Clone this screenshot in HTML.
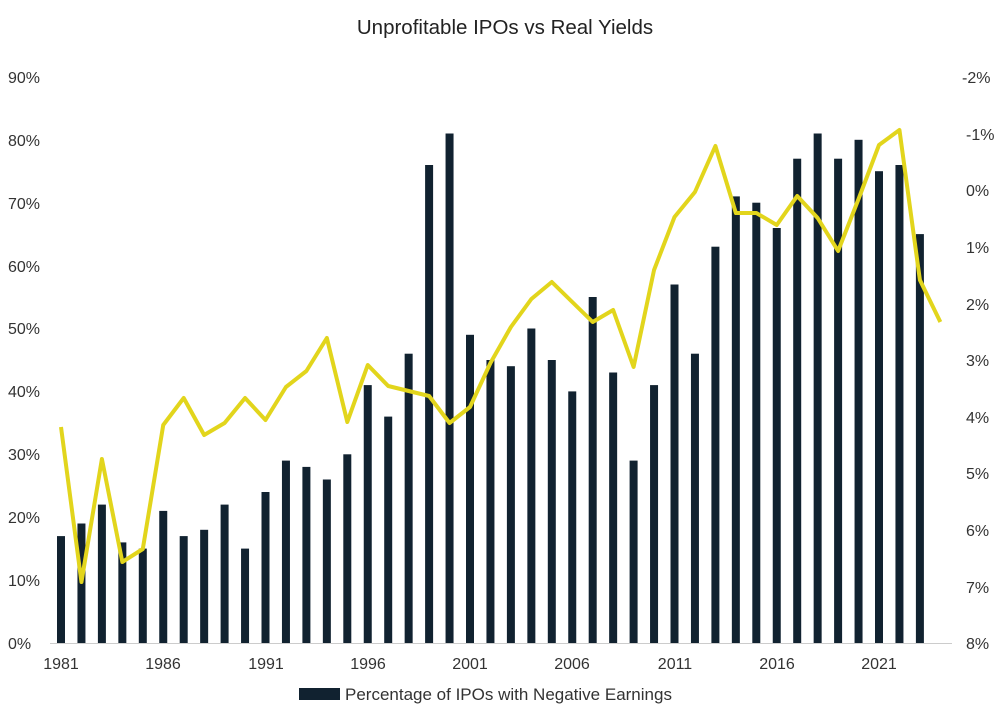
<!DOCTYPE html>
<html><head><meta charset="utf-8"><style>
body{margin:0;background:#fff;}
svg{display:block;font-family:"Liberation Sans",Arial,sans-serif;}
</style></head><body>
<svg width="998" height="724" viewBox="0 0 998 724" xmlns="http://www.w3.org/2000/svg">
<rect width="998" height="724" fill="#fff"/>
<text x="505" y="34" text-anchor="middle" font-size="20.5" fill="#222">Unprofitable IPOs vs Real Yields</text>
<g font-size="16" fill="#333">
<text x="8" y="649">0%</text><text x="8" y="586">10%</text><text x="8" y="523">20%</text><text x="8" y="460">30%</text><text x="8" y="397">40%</text><text x="8" y="334">50%</text><text x="8" y="272">60%</text><text x="8" y="209">70%</text><text x="8" y="146">80%</text><text x="8" y="83">90%</text>
<text x="962" y="83">-2%</text><text x="966" y="140">-1%</text><text x="966" y="196">0%</text><text x="966" y="253">1%</text><text x="966" y="310">2%</text><text x="966" y="366">3%</text><text x="966" y="423">4%</text><text x="966" y="479">5%</text><text x="966" y="536">6%</text><text x="966" y="593">7%</text><text x="966" y="649">8%</text>
<g text-anchor="middle">
<text x="61" y="669">1981</text><text x="163" y="669">1986</text><text x="266" y="669">1991</text><text x="368" y="669">1996</text><text x="470" y="669">2001</text><text x="572" y="669">2006</text><text x="675" y="669">2011</text><text x="777" y="669">2016</text><text x="879" y="669">2021</text>
</g>
</g>
<g fill="#112230">
<rect x="57" y="536.1" width="8" height="106.9"/>
<rect x="77.45" y="523.5" width="8" height="119.5"/>
<rect x="97.9" y="504.6" width="8" height="138.4"/>
<rect x="118.35" y="542.4" width="8" height="100.6"/>
<rect x="138.8" y="548.6" width="8" height="94.4"/>
<rect x="159.25" y="510.9" width="8" height="132.1"/>
<rect x="179.7" y="536.1" width="8" height="106.9"/>
<rect x="200.15" y="529.8" width="8" height="113.2"/>
<rect x="220.6" y="504.6" width="8" height="138.4"/>
<rect x="241.05" y="548.6" width="8" height="94.4"/>
<rect x="261.5" y="492" width="8" height="151"/>
<rect x="281.95" y="460.6" width="8" height="182.4"/>
<rect x="302.4" y="466.9" width="8" height="176.1"/>
<rect x="322.85" y="479.5" width="8" height="163.5"/>
<rect x="343.3" y="454.3" width="8" height="188.7"/>
<rect x="363.75" y="385.1" width="8" height="257.9"/>
<rect x="384.2" y="416.6" width="8" height="226.4"/>
<rect x="404.65" y="353.7" width="8" height="289.3"/>
<rect x="425.1" y="165" width="8" height="478"/>
<rect x="445.55" y="133.5" width="8" height="509.5"/>
<rect x="466" y="334.8" width="8" height="308.2"/>
<rect x="486.45" y="360" width="8" height="283"/>
<rect x="506.9" y="366.2" width="8" height="276.8"/>
<rect x="527.35" y="328.5" width="8" height="314.5"/>
<rect x="547.8" y="360" width="8" height="283"/>
<rect x="568.25" y="391.4" width="8" height="251.6"/>
<rect x="588.7" y="297" width="8" height="346"/>
<rect x="609.15" y="372.5" width="8" height="270.5"/>
<rect x="629.6" y="460.6" width="8" height="182.4"/>
<rect x="650.05" y="385.1" width="8" height="257.9"/>
<rect x="670.5" y="284.5" width="8" height="358.5"/>
<rect x="690.95" y="353.7" width="8" height="289.3"/>
<rect x="711.4" y="246.7" width="8" height="396.3"/>
<rect x="731.85" y="196.4" width="8" height="446.6"/>
<rect x="752.3" y="202.7" width="8" height="440.3"/>
<rect x="772.75" y="228" width="8" height="415"/>
<rect x="793.2" y="158.7" width="8" height="484.3"/>
<rect x="813.65" y="133.5" width="8" height="509.5"/>
<rect x="834.1" y="158.7" width="8" height="484.3"/>
<rect x="854.55" y="139.8" width="8" height="503.2"/>
<rect x="875" y="171.2" width="8" height="471.8"/>
<rect x="895.45" y="165" width="8" height="478"/>
<rect x="915.9" y="234.1" width="8" height="408.9"/>
</g>
<line x1="50" y1="643.5" x2="952" y2="643.5" stroke="#ccc" stroke-width="1"/>
<polyline fill="none" stroke="#e2d51c" stroke-width="4" stroke-linejoin="round" points="61,427 81.45,582 101.9,459 122.35,562 142.8,549 163.25,425 183.7,398 204.15,435 224.6,423 245.05,398 265.5,420 285.95,387 306.4,371 326.85,338 347.3,422 367.75,365 388.2,386 408.65,391 429.1,396 449.55,423 470,407 490.45,363 510.9,327 531.35,299 551.8,282 572.25,302 592.7,322 613.15,310 633.6,367 654.05,270 674.5,217 694.95,192 715.4,146 735.85,213 756.3,213 776.75,225 797.2,196 817.65,218 838.1,251 858.55,199 879,145 899.45,130 919.9,280 940.35,322"/>
<rect x="299" y="688" width="41" height="12" fill="#112230"/>
<text x="345" y="700" font-size="17" fill="#333">Percentage of IPOs with Negative Earnings</text>
</svg>
</body></html>
